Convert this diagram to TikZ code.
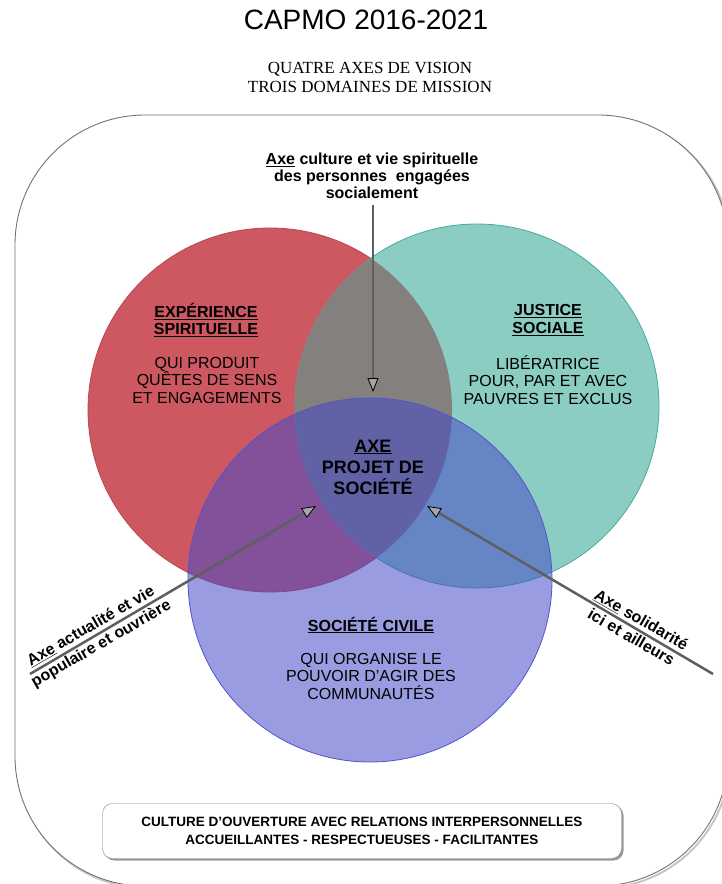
\documentclass[tikz,border=0pt]{standalone}
\usepackage{fontspec}
\setmainfont{Liberation Sans}
\newfontfamily\seriftitre{Liberation Serif}
\usetikzlibrary{arrows.meta,shadows}
\definecolor{rouge}{RGB}{206,88,98}
\definecolor{rougebord}{RGB}{185,70,80}
\definecolor{sarcelle}{RGB}{140,205,195}
\definecolor{sarcellebord}{RGB}{70,170,160}
\definecolor{gris}{RGB}{132,128,126}
\definecolor{bleu}{RGB}{70,75,200}
\definecolor{bleubord}{RGB}{80,85,200}
\definecolor{fleche}{RGB}{95,95,95}
\begin{document}
\begin{tikzpicture}[x=1pt,y=-1pt,
  zone/.style={circle, inner sep=0pt, minimum size=364pt, line width=0.8pt},
  titre/.style={align=center, font=\bfseries\fontsize{16}{17.5}\selectfont},
  corps/.style={align=center, font=\fontsize{16}{17.5}\selectfont},
  etiq/.style={font=\bfseries\fontsize{16}{17}\selectfont, inner sep=3pt},
  axe/.style={draw=fleche, line width=2.5pt, -{Triangle[length=14pt,width=11pt,fill=gray!70,color=black,line width=0.8pt]}}]
\useasboundingbox (0,0) rectangle (722,884);
\draw[gray!45, line width=2pt, rounded corners=130pt] (17,117) rectangle (730,888);
\draw[gray!90!black, line width=0.9pt, fill=white, rounded corners=130pt] (15,115) rectangle (728,886);
\node[font=\fontsize{28}{30}\selectfont] (capmo) at (366,20){CAPMO 2016-2021};
\node[align=center, font=\seriftitre\fontsize{17}{19}\selectfont] (vision) at (370,77){QUATRE AXES DE VISION\\TROIS DOMAINES DE MISSION};
\node[zone, draw=rougebord, fill=rouge] (experience) at (270,410){};
\node[zone, draw=sarcellebord, fill=sarcelle] (justice) at (477,406){};
\begin{scope}
\clip (270,410) circle[radius=182];
\fill[gris] (477,406) circle[radius=182];
\end{scope}
\node[zone, draw=bleubord, fill=bleu, fill opacity=0.55] (societe) at (370,580){};
\node[titre] (titrerouge) at (206,320){\underline{EXPÉRIENCE}\\\underline{SPIRITUELLE}};
\node[corps] (corpsrouge) at (207,380){QUI PRODUIT\\QUÊTES DE SENS\\ET ENGAGEMENTS};
\node[titre] (titrevert) at (548,320){\underline{JUSTICE}\\\underline{SOCIALE}};
\node[corps] (corpsvert) at (548,380){LIBÉRATRICE\\POUR, PAR ET AVEC\\PAUVRES ET EXCLUS};
\node[align=center, font=\bfseries\fontsize{18}{21}\selectfont] (projet) at (373,467){\underline{AXE}\\PROJET DE\\SOCIÉTÉ};
\node[titre] (titrebleu) at (371,625){\underline{SOCIÉTÉ CIVILE}};
\node[corps] (corpsbleu) at (371,676){QUI ORGANISE LE\\POUVOIR D'AGIR DES\\COMMUNAUTÉS};
\node[etiq, align=center, inner sep=0pt] (axehaut) at (372,176){\underline{Axe} culture et vie spirituelle\\des personnes~ engagées\\socialement};
\coordinate (hautdep) at (373,205);
\coordinate (hautfin) at (373,392);
\draw[axe](hautdep) -- (hautfin);
\coordinate (gauchedep) at (30,674);
\coordinate (gauchefin) at (316,506);
\draw[axe](gauchedep) -- (gauchefin);
\coordinate (droitedep) at (713,674);
\coordinate (droitefin) at (427,506);
\draw[axe](droitedep) -- (droitefin);
% etiquettes de part et d'autre des axes obliques
\coordinate (gauchemil) at (96,635);
\coordinate (droitemil) at (636,629);
\node[etiq, rotate=30, anchor=south] (axegauche) at (gauchemil){\underline{Axe} actualité et vie};
\node[etiq, rotate=30, anchor=north] (axegauchebis) at (gauchemil){populaire et ouvrière};
\node[etiq, rotate=-30, anchor=south] (axedroite) at (droitemil){\underline{Axe} solidarité};
\node[etiq, rotate=-30, anchor=north] (axedroitebis) at (droitemil){ici et ailleurs};
\node[draw=gray, fill=white, rounded corners=10pt, minimum width=519pt, minimum height=55pt, align=center,
  font=\bfseries\fontsize{13.5}{18}\selectfont, drop shadow={shadow xshift=2pt, shadow yshift=-2pt, fill=gray!80, opacity=1}] (culture) at (362,831){CULTURE D'OUVERTURE AVEC RELATIONS INTERPERSONNELLES\\ACCUEILLANTES - RESPECTUEUSES - FACILITANTES};
\end{tikzpicture}
\end{document}
